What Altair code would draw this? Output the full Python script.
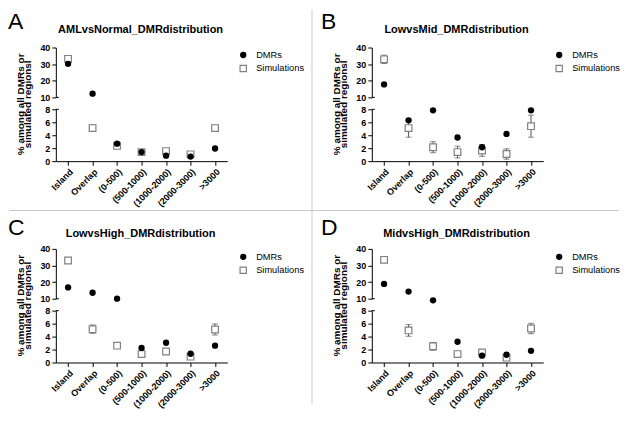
import altair as alt
import pandas as pd

# ---------------- data ----------------
cats = ["Island", "Overlap", "(0-500)", "(500-1000)", "(1000-2000)", "(2000-3000)", ">3000"]
series = ["DMRs", "Simulations"]
letters = ["A", "B", "C", "D"]
titles = ["AMLvsNormal_DMRdistribution", "LowvsMid_DMRdistribution",
          "LowvsHigh_DMRdistribution", "MidvsHigh_DMRdistribution"]
y_title = ["% among all DMRs or", "simulated regionsl"]
upper_ticks = [10, 20, 30, 40]
lower_ticks = [0, 2, 4, 6, 8]

dmr_A = [30.2, 12.2, 2.7, 1.4, 0.85, 0.7, 1.95]
sim_A = [33.2, 5.1, 2.35, 1.4, 1.55, 1.05, 5.1]
err_A = [1.0, 0.5, 0.25, 0.1, 0.3, 0.2, 0.45]

dmr_B = [17.8, 6.3, 7.85, 3.65, 2.15, 4.2, 7.85]
sim_B = [32.9, 5.1, 2.15, 1.4, 1.65, 1.1, 5.4]
err_B = [2.5, 1.4, 0.85, 0.9, 0.9, 0.8, 1.7]

dmr_C = [16.8, 13.6, 10.0, 2.25, 3.05, 1.35, 2.6]
sim_C = [33.0, 5.15, 2.6, 1.3, 1.7, 0.9, 5.1]
err_C = [0.8, 0.65, 0.4, 0.45, 0.45, 0.2, 0.85]

dmr_D = [18.9, 14.3, 9.0, 3.2, 1.05, 1.2, 1.8]
sim_D = [33.4, 4.95, 2.5, 1.3, 1.55, 0.75, 5.25]
err_D = [0.6, 0.9, 0.6, 0.2, 0.3, 0.3, 0.8]

dmrs = [dmr_A, dmr_B, dmr_C, dmr_D]
sims = [sim_A, sim_B, sim_C, sim_D]
errs = [err_A, err_B, err_C, err_D]

rows = []
for p, d, s, e in zip(letters, dmrs, sims, errs):
    for c, dv, sv, ev in zip(cats, d, s, e):
        rows.append(dict(panel=p, cat=c, dmr=dv, sim=sv, lo=sv - ev, hi=sv + ev))
df = pd.DataFrame(rows)

# ---------------- style ----------------
FONT = "Liberation Sans"
W = 172
H_UP = 50
H_LO = 52
H_SP = 64
SIM_COLOR = "#808080"
ERR_COLOR = "#555555"


def one(**kw):
    return pd.DataFrame({k: [v] for k, v in kw.items()})


def xenc(axis):
    return alt.X("cat:N", sort=cats, title=None,
                 scale=alt.Scale(type="point", domain=cats, padding=0.5), axis=axis)


def segment(p, upper):
    dom = [10, 40] if upper else [0, 8]
    ticks = upper_ticks if upper else lower_ticks
    ysc = alt.Scale(domain=dom, nice=False, zero=False)
    yax = alt.Axis(values=ticks, title=None, tickCount=len(ticks))
    xax = None if upper else alt.Axis(labelAngle=-45, labelOverlap=False, tickSize=4)
    cond_sim = "datum.sim > 8" if upper else "datum.sim <= 8"
    cond_dmr = "datum.dmr > 8" if upper else "datum.dmr <= 8"
    base = alt.Chart(df).transform_filter(alt.datum.panel == p)
    simb = base.transform_filter(cond_sim)
    dmrb = base.transform_filter(cond_dmr)

    err = simb.mark_rule(color=ERR_COLOR, strokeWidth=1).encode(
        x=xenc(xax), y=alt.Y("lo:Q", scale=ysc, axis=yax), y2="hi:Q")
    cap_lo = simb.mark_tick(color=ERR_COLOR, orient="horizontal", size=6, thickness=1).encode(
        x=xenc(xax), y=alt.Y("lo:Q", scale=ysc, axis=yax))
    cap_hi = simb.mark_tick(color=ERR_COLOR, orient="horizontal", size=6, thickness=1).encode(
        x=xenc(xax), y=alt.Y("hi:Q", scale=ysc, axis=yax))
    sq = simb.mark_point(shape="square", filled=True, fill="white", stroke=SIM_COLOR,
                         strokeWidth=1.2, size=45, opacity=1).encode(
        x=xenc(xax), y=alt.Y("sim:Q", scale=ysc, axis=yax))
    dots = dmrb.mark_circle(color="black", size=40, opacity=1).encode(
        x=xenc(xax), y=alt.Y("dmr:Q", scale=ysc, axis=yax))
    brk = alt.Chart(one(v=dom[0] if upper else dom[1])).mark_rule(
        color="black", strokeWidth=1).encode(
        x=alt.value(0), x2=alt.value(3), y=alt.Y("v:Q", scale=ysc, axis=yax))

    layers = [err, cap_lo, cap_hi, sq, dots, brk]
    idx = letters.index(p)
    col = idx % 2
    row = idx // 2
    if upper:
        lx = -48 if col == 0 else -51
        ly = -19 if row == 0 else -14
        ty = -18 if row == 0 else -15
        layers.append(alt.Chart(one(t=p)).mark_text(
            font=FONT, fontSize=23, align="left", baseline="alphabetic", color="black").encode(
            x=alt.value(lx), y=alt.value(ly), text="t:N"))
        layers.append(alt.Chart(one(t=titles[idx])).mark_text(
            font=FONT, fontSize=11, fontWeight="bold", align="center", baseline="middle",
            color="black").encode(x=alt.value(85), y=alt.value(ty), text="t:N"))
        # legend
        ly1, ly2 = (7.5, 21) if row == 0 else (8, 21.5)
        layers.append(alt.Chart(one(s=series[0])).mark_circle(color="black", size=40, opacity=1).encode(
            x=alt.value(188), y=alt.value(ly1)))
        layers.append(alt.Chart(one(s=series[1])).mark_point(
            shape="square", filled=True, fill="white", stroke=SIM_COLOR, strokeWidth=1.2,
            size=40, opacity=1).encode(x=alt.value(188), y=alt.value(ly2)))
        for s, yy in zip(series, [ly1, ly2]):
            layers.append(alt.Chart(one(t=s)).mark_text(
                font=FONT, fontSize=9.3, align="left", baseline="middle", color="black").encode(
                x=alt.value(201), y=alt.value(yy), text="t:N"))
        # y-axis title (spans both segments)
        yc = 57
        for line, xx in zip(y_title, [-35, -27.5]):
            layers.append(alt.Chart(one(t=line)).mark_text(
                font=FONT, fontSize=10, fontWeight="bold", angle=270, align="center",
                baseline="middle", color="black").encode(
                x=alt.value(xx), y=alt.value(yc), text="t:N"))
        if p == "A":
            # bounds anchor and panel dividers (relative to panel A plot origin)
            layers.append(alt.Chart(one(a=0)).mark_rule(color="white", strokeWidth=1).encode(
                x=alt.value(-47), x2=alt.value(-46), y=alt.value(-38)))
            layers.append(alt.Chart(one(a=0)).mark_rule(color="#c8c8c8", strokeWidth=1).encode(
                x=alt.value(257), y=alt.value(-38), y2=alt.value(358)))
            layers.append(alt.Chart(one(a=0)).mark_rule(color="#c8c8c8", strokeWidth=1).encode(
                x=alt.value(-47), x2=alt.value(565), y=alt.value(163.5)))
    return alt.layer(*layers).properties(width=W, height=H_UP if upper else H_LO)


def spacer():
    return alt.Chart(one(a=0)).mark_point(opacity=0).encode(
        x=alt.value(0), y=alt.value(0)).properties(width=W, height=H_SP)


cells = [segment("A", True), segment("B", True),
         segment("A", False), segment("B", False),
         spacer(), spacer(),
         segment("C", True), segment("D", True),
         segment("C", False), segment("D", False)]

chart = alt.concat(
    *cells, columns=2, spacing=alt.RowColnumber(row=12, column=145), bounds="flush"
).resolve_scale(
    x="independent", y="independent"
).resolve_axis(
    x="independent", y="independent"
).properties(
    padding=0, background="white"
).configure_view(
    stroke=None
).configure_axis(
    domainColor="black", tickColor="black", labelColor="black", labelFont=FONT,
    labelFontWeight="bold", labelFontSize=9, tickSize=4, labelPadding=2, grid=False,
    domainWidth=1, tickWidth=1
).configure_text(font=FONT)

chart.save("out.html", embed_options={"renderer": "svg", "actions": False})
